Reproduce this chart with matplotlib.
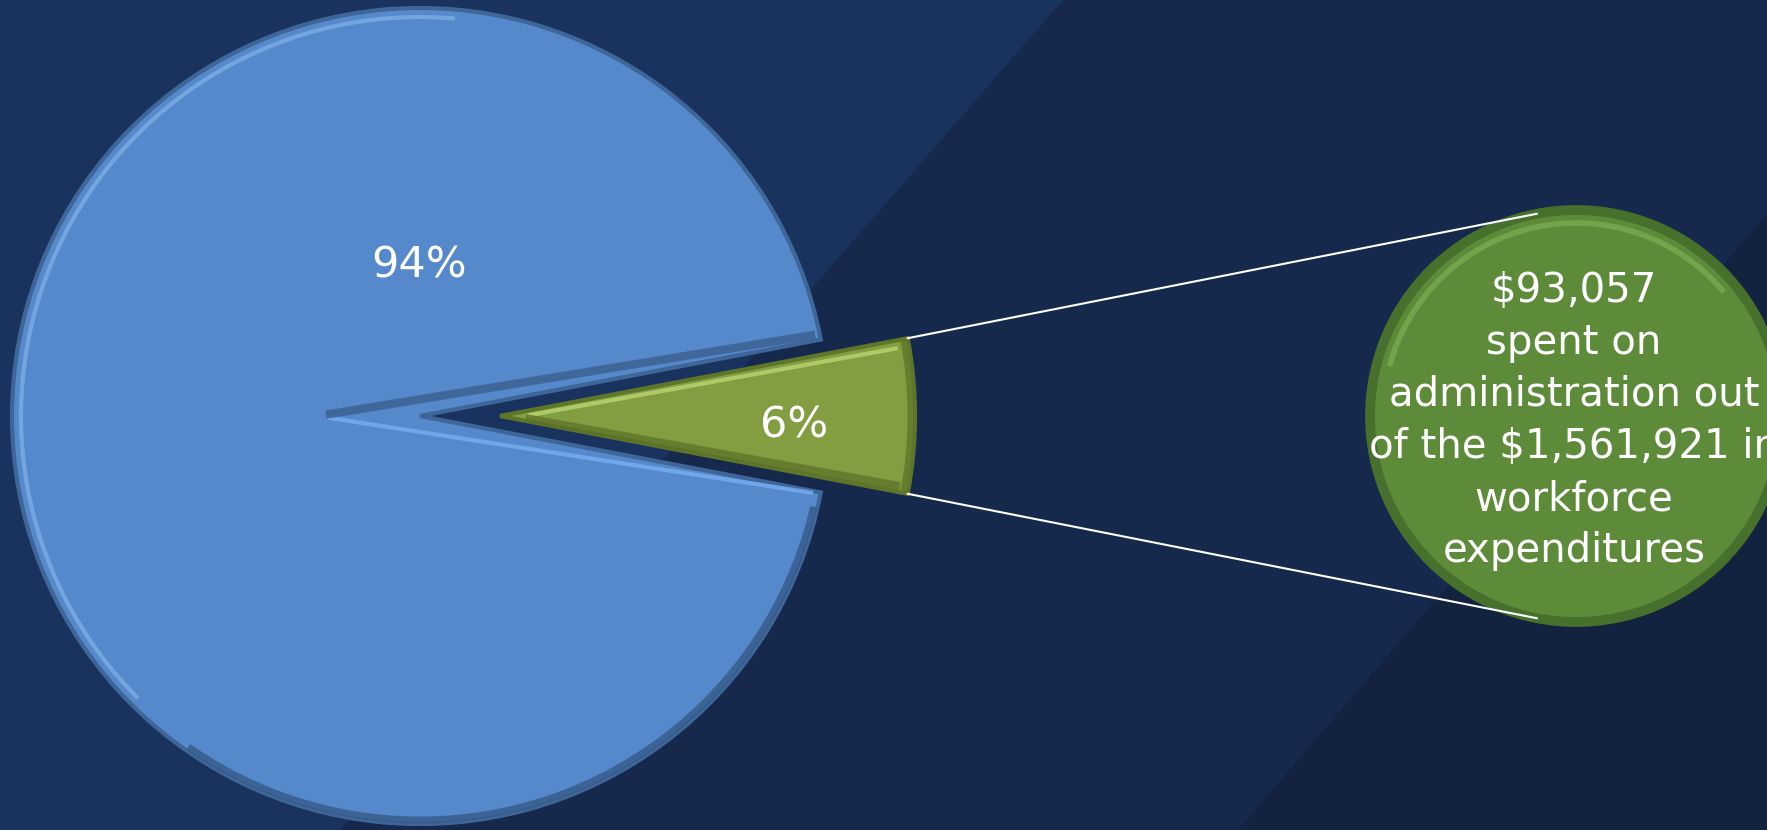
import numpy as np
import matplotlib.pyplot as plt
from matplotlib.patches import Polygon, Arc

# data
shares = [94, 6]
share_labels = ['94%', '6%']
admin_spent = 93057
workforce_total = 1561921
slice_colors = ['#5689CB', '#829E41']
circle_color = '#5E8B3A'

W, H = 1767, 830
fig = plt.figure(figsize=(W / 100, H / 100), dpi=100)
fig.patch.set_facecolor('#16294D')
ax = fig.add_axes([0, 0, 1, 1])

# background bands
ax.add_patch(Polygon([(0, 0), (0, H), (1063, H), (340, 0)], closed=True,
                     facecolor='#1A335E', edgecolor='none', zorder=0))
ax.add_patch(Polygon([(1238, 0), (W, 616), (W, 0)], closed=True,
                     facecolor='#13223F', edgecolor='none', zorder=0))

# main pie
R = 408
cx, cy = 460, 414
gap = 40
wedges, _ = ax.pie(shares, startangle=180 * shares[1] / 100, center=(cx, cy),
                   radius=R, explode=[gap, gap], colors=slice_colors,
                   wedgeprops=dict(linewidth=3))
wedges[0].set_edgecolor('#3F6699')
wedges[1].set_edgecolor('#5E7629')
R_small = 415
wedges[1].set_radius(R_small)

half = 180 * shares[1] / 100
t = np.radians(half)
blue_c = (cx - gap, cy)
green_c = (cx + gap, cy)

# bevel highlights on the big slice
ax.add_patch(Arc(blue_c, 2 * (R - 9), 2 * (R - 9), theta1=85, theta2=225,
                 color='#8EBDF3', lw=3, alpha=0.55, zorder=3))
ax.add_patch(Arc(blue_c, 2 * (R - 4), 2 * (R - 4), theta1=235, theta2=347,
                 color='#355A88', lw=5, alpha=0.8, zorder=3))
ax.plot([blue_c[0] - 90, blue_c[0] + (R - 10) * np.cos(t)],
        [cy - 2, cy - 2 - (R - 10) * np.sin(t)], color='#78AEF0', lw=3, alpha=0.8, zorder=3)
ax.plot([blue_c[0] - 90, blue_c[0] + (R - 10) * np.cos(t)],
        [cy + 2, cy + 6 + (R - 10) * np.sin(t)], color='#3B5F8E', lw=6, alpha=0.8, zorder=3)

# bevel on the small slice
ax.plot([green_c[0] + 30, green_c[0] + (R_small - 12) * np.cos(t)],
        [cy + 1, cy - 8 + (R_small - 12) * np.sin(t)], color='#B9D672', lw=3, alpha=0.8, zorder=3)
ax.plot([green_c[0] + 30, green_c[0] + (R_small - 12) * np.cos(t)],
        [cy - 3, cy + 6 - (R_small - 12) * np.sin(t)], color='#5A6F26', lw=6, alpha=0.7, zorder=3)
ax.add_patch(Arc(green_c, 2 * (R_small - 4), 2 * (R_small - 4), theta1=-half, theta2=half,
                 color='#5E7629', lw=5, alpha=0.8, zorder=3))

ax.text(blue_c[0] - 1, cy + 151, share_labels[0], color='white', fontsize=31,
        ha='center', va='center', zorder=5)
ax.text(green_c[0] + 294, cy - 9, share_labels[1], color='white', fontsize=31,
        ha='center', va='center', zorder=5)

# second pie: the administration share on its own
C2 = (1576, 414)
R2 = 206
w2, _ = ax.pie([admin_spent], center=C2, radius=R2, colors=[circle_color],
               wedgeprops=dict(edgecolor='#46702B', linewidth=7))
ax.add_patch(Arc(C2, 2 * (R2 - 13), 2 * (R2 - 13), theta1=40, theta2=165,
                 color='#86B95C', lw=4, alpha=0.55, zorder=3))

# series lines from the 6% slice to the circle
corners = [(green_c[0] + R_small * np.cos(a), cy + R_small * np.sin(a)) for a in (t, -t)]
phi = np.radians(101)
ends = [(C2[0] + R2 * np.cos(phi), C2[1] + R2 * np.sin(phi)),
        (C2[0] + R2 * np.cos(-phi), C2[1] + R2 * np.sin(-phi))]
for (x0, y0), (x1, y1) in zip(corners, ends):
    ax.plot([x0, x1], [y0, y1], color='white', lw=1.5, zorder=2)

txt = (f"${admin_spent:,}\nspent on\nadministration out\n"
       f"of the ${workforce_total:,} in\nworkforce\nexpenditures")
ax.text(C2[0] - 2, C2[1] - 5, txt, color='white', fontsize=29, ha='center',
        va='center', linespacing=1.39, zorder=5)

ax.set_xlim(0, W)
ax.set_ylim(0, H)
ax.set_aspect('equal')
ax.axis('off')

fig.savefig('out.png', dpi=100, facecolor=fig.get_facecolor())
